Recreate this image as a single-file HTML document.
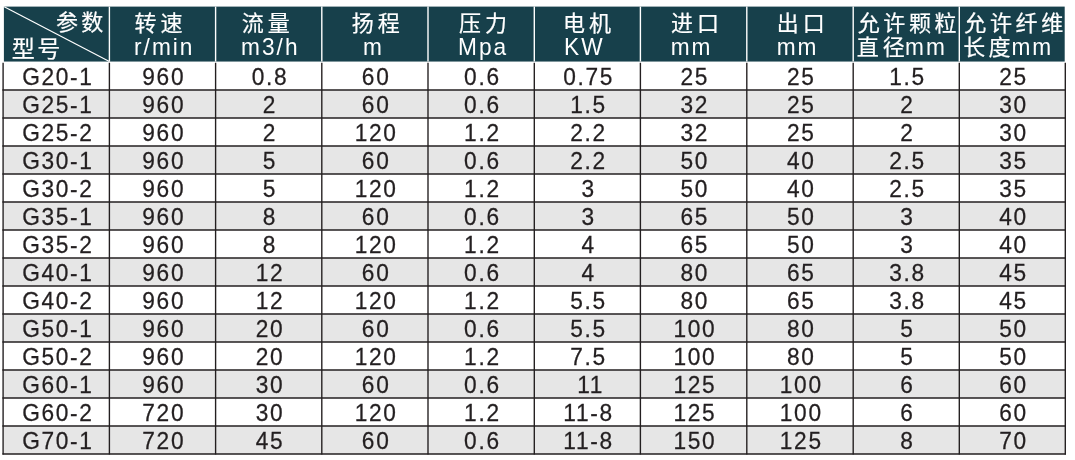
<!DOCTYPE html>
<html lang="zh"><head><meta charset="utf-8"><title>G型螺杆泵参数表</title>
<style>html,body{margin:0;padding:0;background:#fff}body{width:1075px;height:460px;overflow:hidden}svg{display:block}text{font-family:"Liberation Sans","Noto Sans CJK SC",sans-serif}.h{fill:#fff;font-size:22.7px;letter-spacing:2px}.c{fill:#fff;stroke:#fff;stroke-width:.22px;font-size:22px;letter-spacing:0}.b{fill:#231f20;stroke:#231f20;stroke-width:.25px;font-size:22.7px;letter-spacing:1.7px;text-anchor:middle}</style></head><body>
<svg width="1075" height="460" viewBox="0 0 1075 460">
<defs>
<filter id="soft" x="0" y="0" width="100%" height="100%" filterUnits="userSpaceOnUse" color-interpolation-filters="sRGB"><feGaussianBlur stdDeviation="0.38"/></filter>
</defs>
<g filter="url(#soft)">
<rect width="1075" height="460" fill="#fff"/>
<rect x="3.9" y="89.95" width="1061.4" height="28" fill="#e6e6e6"/>
<rect x="3.9" y="145.95" width="1061.4" height="28" fill="#e6e6e6"/>
<rect x="3.9" y="201.95" width="1061.4" height="28" fill="#e6e6e6"/>
<rect x="3.9" y="257.95" width="1061.4" height="28" fill="#e6e6e6"/>
<rect x="3.9" y="313.95" width="1061.4" height="28" fill="#e6e6e6"/>
<rect x="3.9" y="369.95" width="1061.4" height="28" fill="#e6e6e6"/>
<rect x="3.9" y="425.95" width="1061.4" height="28" fill="#e6e6e6"/>
<rect x="3.9" y="6.6" width="1060.8" height="54.95" fill="#17404b"/>
<g stroke="#fff" stroke-width="1.4">
<line x1="109.4" y1="6.6" x2="109.4" y2="61.55"/>
<line x1="215.6" y1="6.6" x2="215.6" y2="61.55"/>
<line x1="321.8" y1="6.6" x2="321.8" y2="61.55"/>
<line x1="428" y1="6.6" x2="428" y2="61.55"/>
<line x1="534.3" y1="6.6" x2="534.3" y2="61.55"/>
<line x1="640.4" y1="6.6" x2="640.4" y2="61.55"/>
<line x1="746.8" y1="6.6" x2="746.8" y2="61.55"/>
<line x1="853.2" y1="6.6" x2="853.2" y2="61.55"/>
<line x1="959.3" y1="6.6" x2="959.3" y2="61.55"/>
<line x1="4.2" y1="6.8" x2="109.4" y2="61.55" stroke-width="1.2"/>
</g>
<g stroke="#231f20" stroke-width="1.38">
<line x1="3.1" y1="62.7" x2="3.1" y2="454.55"/>
<line x1="109.4" y1="62.7" x2="109.4" y2="454.55"/>
<line x1="215.6" y1="62.7" x2="215.6" y2="454.55"/>
<line x1="321.8" y1="62.7" x2="321.8" y2="454.55"/>
<line x1="428" y1="62.7" x2="428" y2="454.55"/>
<line x1="534.3" y1="62.7" x2="534.3" y2="454.55"/>
<line x1="640.4" y1="62.7" x2="640.4" y2="454.55"/>
<line x1="746.8" y1="62.7" x2="746.8" y2="454.55"/>
<line x1="853.2" y1="62.7" x2="853.2" y2="454.55"/>
<line x1="959.3" y1="62.7" x2="959.3" y2="454.55"/>
<line x1="1065.3" y1="62.7" x2="1065.3" y2="454.55"/>
<line x1="2.4" y1="89.95" x2="1066" y2="89.95"/>
<line x1="2.4" y1="117.95" x2="1066" y2="117.95"/>
<line x1="2.4" y1="145.95" x2="1066" y2="145.95"/>
<line x1="2.4" y1="173.95" x2="1066" y2="173.95"/>
<line x1="2.4" y1="201.95" x2="1066" y2="201.95"/>
<line x1="2.4" y1="229.95" x2="1066" y2="229.95"/>
<line x1="2.4" y1="257.95" x2="1066" y2="257.95"/>
<line x1="2.4" y1="285.95" x2="1066" y2="285.95"/>
<line x1="2.4" y1="313.95" x2="1066" y2="313.95"/>
<line x1="2.4" y1="341.95" x2="1066" y2="341.95"/>
<line x1="2.4" y1="369.95" x2="1066" y2="369.95"/>
<line x1="2.4" y1="397.95" x2="1066" y2="397.95"/>
<line x1="2.4" y1="425.95" x2="1066" y2="425.95"/>
<line x1="2.4" y1="453.95" x2="1066" y2="453.95"/>
</g>
<text class="c" x="55.94 81.24" y="29.9">参数</text>
<text class="c" x="11.71 37.21" y="56.85" style="font-size:23.1px">型号</text>
<text class="c" x="134.42 160.42" y="31.2">转速</text>
<text class="c" x="241.72 267.72" y="31.2">流量</text>
<text class="c" x="351.71 377.71" y="31.2">扬程</text>
<text class="c" x="459.1 485.1" y="31.2">压力</text>
<text class="c" x="563.03 589.03" y="31.2">电机</text>
<text class="c" x="670.96 696.96" y="31.2">进口</text>
<text class="c" x="776.81 802.81" y="31.2">出口</text>
<text class="c" x="857.67 883.32 908.97 934.62" y="31.2">允许颗粒</text>
<text class="c" x="856.69 882.79" y="54.7">直径</text>
<text class="c" x="964.27 989.92 1015.57 1041.22" y="31.2">允许纤维</text>
<text class="c" x="963.17 988.57" y="54.7">长度</text>
<text class="h" transform="translate(134.06 55) scale(1 1.04)">r/min</text>
<text class="h" transform="translate(241.1 55) scale(1 1.04)">m3/h</text>
<text class="h" transform="translate(363 55) scale(1 1.04)">m</text>
<text class="h" transform="translate(458.1 55) scale(1 1.04)">Mpa</text>
<text class="h" transform="translate(564.07 55) scale(1 1.04)">KW</text>
<text class="h" transform="translate(670.7 55) scale(1 1.04)">mm</text>
<text class="h" transform="translate(776.7 55) scale(1 1.04)">mm</text>
<text class="h" transform="translate(905.1 55) scale(1 1.04)">mm</text>
<text class="h" transform="translate(1011.4 55) scale(1 1.04)">mm</text>
<text class="b" transform="translate(57.9 84.5) scale(1 1.03)">G20-1</text>
<text class="b" transform="translate(163.75 84.5) scale(1 1.03)">960</text>
<text class="b" transform="translate(269.95 84.5) scale(1 1.03)">0.8</text>
<text class="b" transform="translate(376.15 84.5) scale(1 1.03)">60</text>
<text class="b" transform="translate(482.4 84.5) scale(1 1.03)">0.6</text>
<text class="b" transform="translate(588.6 84.5) scale(1 1.03)">0.75</text>
<text class="b" transform="translate(694.85 84.5) scale(1 1.03)">25</text>
<text class="b" transform="translate(801.25 84.5) scale(1 1.03)">25</text>
<text class="b" transform="translate(907.5 84.5) scale(1 1.03)">1.5</text>
<text class="b" transform="translate(1013.55 84.5) scale(1 1.03)">25</text>
<text class="b" transform="translate(57.9 112.5) scale(1 1.03)">G25-1</text>
<text class="b" transform="translate(163.75 112.5) scale(1 1.03)">960</text>
<text class="b" transform="translate(269.95 112.5) scale(1 1.03)">2</text>
<text class="b" transform="translate(376.15 112.5) scale(1 1.03)">60</text>
<text class="b" transform="translate(482.4 112.5) scale(1 1.03)">0.6</text>
<text class="b" transform="translate(588.6 112.5) scale(1 1.03)">1.5</text>
<text class="b" transform="translate(694.85 112.5) scale(1 1.03)">32</text>
<text class="b" transform="translate(801.25 112.5) scale(1 1.03)">25</text>
<text class="b" transform="translate(907.5 112.5) scale(1 1.03)">2</text>
<text class="b" transform="translate(1013.55 112.5) scale(1 1.03)">30</text>
<text class="b" transform="translate(57.9 140.5) scale(1 1.03)">G25-2</text>
<text class="b" transform="translate(163.75 140.5) scale(1 1.03)">960</text>
<text class="b" transform="translate(269.95 140.5) scale(1 1.03)">2</text>
<text class="b" transform="translate(376.15 140.5) scale(1 1.03)">120</text>
<text class="b" transform="translate(482.4 140.5) scale(1 1.03)">1.2</text>
<text class="b" transform="translate(588.6 140.5) scale(1 1.03)">2.2</text>
<text class="b" transform="translate(694.85 140.5) scale(1 1.03)">32</text>
<text class="b" transform="translate(801.25 140.5) scale(1 1.03)">25</text>
<text class="b" transform="translate(907.5 140.5) scale(1 1.03)">2</text>
<text class="b" transform="translate(1013.55 140.5) scale(1 1.03)">30</text>
<text class="b" transform="translate(57.9 168.5) scale(1 1.03)">G30-1</text>
<text class="b" transform="translate(163.75 168.5) scale(1 1.03)">960</text>
<text class="b" transform="translate(269.95 168.5) scale(1 1.03)">5</text>
<text class="b" transform="translate(376.15 168.5) scale(1 1.03)">60</text>
<text class="b" transform="translate(482.4 168.5) scale(1 1.03)">0.6</text>
<text class="b" transform="translate(588.6 168.5) scale(1 1.03)">2.2</text>
<text class="b" transform="translate(694.85 168.5) scale(1 1.03)">50</text>
<text class="b" transform="translate(801.25 168.5) scale(1 1.03)">40</text>
<text class="b" transform="translate(907.5 168.5) scale(1 1.03)">2.5</text>
<text class="b" transform="translate(1013.55 168.5) scale(1 1.03)">35</text>
<text class="b" transform="translate(57.9 196.5) scale(1 1.03)">G30-2</text>
<text class="b" transform="translate(163.75 196.5) scale(1 1.03)">960</text>
<text class="b" transform="translate(269.95 196.5) scale(1 1.03)">5</text>
<text class="b" transform="translate(376.15 196.5) scale(1 1.03)">120</text>
<text class="b" transform="translate(482.4 196.5) scale(1 1.03)">1.2</text>
<text class="b" transform="translate(588.6 196.5) scale(1 1.03)">3</text>
<text class="b" transform="translate(694.85 196.5) scale(1 1.03)">50</text>
<text class="b" transform="translate(801.25 196.5) scale(1 1.03)">40</text>
<text class="b" transform="translate(907.5 196.5) scale(1 1.03)">2.5</text>
<text class="b" transform="translate(1013.55 196.5) scale(1 1.03)">35</text>
<text class="b" transform="translate(57.9 224.5) scale(1 1.03)">G35-1</text>
<text class="b" transform="translate(163.75 224.5) scale(1 1.03)">960</text>
<text class="b" transform="translate(269.95 224.5) scale(1 1.03)">8</text>
<text class="b" transform="translate(376.15 224.5) scale(1 1.03)">60</text>
<text class="b" transform="translate(482.4 224.5) scale(1 1.03)">0.6</text>
<text class="b" transform="translate(588.6 224.5) scale(1 1.03)">3</text>
<text class="b" transform="translate(694.85 224.5) scale(1 1.03)">65</text>
<text class="b" transform="translate(801.25 224.5) scale(1 1.03)">50</text>
<text class="b" transform="translate(907.5 224.5) scale(1 1.03)">3</text>
<text class="b" transform="translate(1013.55 224.5) scale(1 1.03)">40</text>
<text class="b" transform="translate(57.9 252.5) scale(1 1.03)">G35-2</text>
<text class="b" transform="translate(163.75 252.5) scale(1 1.03)">960</text>
<text class="b" transform="translate(269.95 252.5) scale(1 1.03)">8</text>
<text class="b" transform="translate(376.15 252.5) scale(1 1.03)">120</text>
<text class="b" transform="translate(482.4 252.5) scale(1 1.03)">1.2</text>
<text class="b" transform="translate(588.6 252.5) scale(1 1.03)">4</text>
<text class="b" transform="translate(694.85 252.5) scale(1 1.03)">65</text>
<text class="b" transform="translate(801.25 252.5) scale(1 1.03)">50</text>
<text class="b" transform="translate(907.5 252.5) scale(1 1.03)">3</text>
<text class="b" transform="translate(1013.55 252.5) scale(1 1.03)">40</text>
<text class="b" transform="translate(57.9 280.5) scale(1 1.03)">G40-1</text>
<text class="b" transform="translate(163.75 280.5) scale(1 1.03)">960</text>
<text class="b" transform="translate(269.95 280.5) scale(1 1.03)">12</text>
<text class="b" transform="translate(376.15 280.5) scale(1 1.03)">60</text>
<text class="b" transform="translate(482.4 280.5) scale(1 1.03)">0.6</text>
<text class="b" transform="translate(588.6 280.5) scale(1 1.03)">4</text>
<text class="b" transform="translate(694.85 280.5) scale(1 1.03)">80</text>
<text class="b" transform="translate(801.25 280.5) scale(1 1.03)">65</text>
<text class="b" transform="translate(907.5 280.5) scale(1 1.03)">3.8</text>
<text class="b" transform="translate(1013.55 280.5) scale(1 1.03)">45</text>
<text class="b" transform="translate(57.9 308.5) scale(1 1.03)">G40-2</text>
<text class="b" transform="translate(163.75 308.5) scale(1 1.03)">960</text>
<text class="b" transform="translate(269.95 308.5) scale(1 1.03)">12</text>
<text class="b" transform="translate(376.15 308.5) scale(1 1.03)">120</text>
<text class="b" transform="translate(482.4 308.5) scale(1 1.03)">1.2</text>
<text class="b" transform="translate(588.6 308.5) scale(1 1.03)">5.5</text>
<text class="b" transform="translate(694.85 308.5) scale(1 1.03)">80</text>
<text class="b" transform="translate(801.25 308.5) scale(1 1.03)">65</text>
<text class="b" transform="translate(907.5 308.5) scale(1 1.03)">3.8</text>
<text class="b" transform="translate(1013.55 308.5) scale(1 1.03)">45</text>
<text class="b" transform="translate(57.9 336.5) scale(1 1.03)">G50-1</text>
<text class="b" transform="translate(163.75 336.5) scale(1 1.03)">960</text>
<text class="b" transform="translate(269.95 336.5) scale(1 1.03)">20</text>
<text class="b" transform="translate(376.15 336.5) scale(1 1.03)">60</text>
<text class="b" transform="translate(482.4 336.5) scale(1 1.03)">0.6</text>
<text class="b" transform="translate(588.6 336.5) scale(1 1.03)">5.5</text>
<text class="b" transform="translate(694.85 336.5) scale(1 1.03)">100</text>
<text class="b" transform="translate(801.25 336.5) scale(1 1.03)">80</text>
<text class="b" transform="translate(907.5 336.5) scale(1 1.03)">5</text>
<text class="b" transform="translate(1013.55 336.5) scale(1 1.03)">50</text>
<text class="b" transform="translate(57.9 364.5) scale(1 1.03)">G50-2</text>
<text class="b" transform="translate(163.75 364.5) scale(1 1.03)">960</text>
<text class="b" transform="translate(269.95 364.5) scale(1 1.03)">20</text>
<text class="b" transform="translate(376.15 364.5) scale(1 1.03)">120</text>
<text class="b" transform="translate(482.4 364.5) scale(1 1.03)">1.2</text>
<text class="b" transform="translate(588.6 364.5) scale(1 1.03)">7.5</text>
<text class="b" transform="translate(694.85 364.5) scale(1 1.03)">100</text>
<text class="b" transform="translate(801.25 364.5) scale(1 1.03)">80</text>
<text class="b" transform="translate(907.5 364.5) scale(1 1.03)">5</text>
<text class="b" transform="translate(1013.55 364.5) scale(1 1.03)">50</text>
<text class="b" transform="translate(57.9 392.5) scale(1 1.03)">G60-1</text>
<text class="b" transform="translate(163.75 392.5) scale(1 1.03)">960</text>
<text class="b" transform="translate(269.95 392.5) scale(1 1.03)">30</text>
<text class="b" transform="translate(376.15 392.5) scale(1 1.03)">60</text>
<text class="b" transform="translate(482.4 392.5) scale(1 1.03)">0.6</text>
<text class="b" transform="translate(590.7 392.5) scale(1 1.03)">1<tspan dx="-1.68">1</tspan></text>
<text class="b" transform="translate(694.85 392.5) scale(1 1.03)">125</text>
<text class="b" transform="translate(801.25 392.5) scale(1 1.03)">100</text>
<text class="b" transform="translate(907.5 392.5) scale(1 1.03)">6</text>
<text class="b" transform="translate(1013.55 392.5) scale(1 1.03)">60</text>
<text class="b" transform="translate(57.9 420.5) scale(1 1.03)">G60-2</text>
<text class="b" transform="translate(163.75 420.5) scale(1 1.03)">720</text>
<text class="b" transform="translate(269.95 420.5) scale(1 1.03)">30</text>
<text class="b" transform="translate(376.15 420.5) scale(1 1.03)">120</text>
<text class="b" transform="translate(482.4 420.5) scale(1 1.03)">1.2</text>
<text class="b" transform="translate(588.6 420.5) scale(1 1.03)">1<tspan dx="-1.68">1</tspan>-8</text>
<text class="b" transform="translate(694.85 420.5) scale(1 1.03)">125</text>
<text class="b" transform="translate(801.25 420.5) scale(1 1.03)">100</text>
<text class="b" transform="translate(907.5 420.5) scale(1 1.03)">6</text>
<text class="b" transform="translate(1013.55 420.5) scale(1 1.03)">60</text>
<text class="b" transform="translate(57.9 448.5) scale(1 1.03)">G70-1</text>
<text class="b" transform="translate(163.75 448.5) scale(1 1.03)">720</text>
<text class="b" transform="translate(269.95 448.5) scale(1 1.03)">45</text>
<text class="b" transform="translate(376.15 448.5) scale(1 1.03)">60</text>
<text class="b" transform="translate(482.4 448.5) scale(1 1.03)">0.6</text>
<text class="b" transform="translate(588.6 448.5) scale(1 1.03)">1<tspan dx="-1.68">1</tspan>-8</text>
<text class="b" transform="translate(694.85 448.5) scale(1 1.03)">150</text>
<text class="b" transform="translate(801.25 448.5) scale(1 1.03)">125</text>
<text class="b" transform="translate(907.5 448.5) scale(1 1.03)">8</text>
<text class="b" transform="translate(1013.55 448.5) scale(1 1.03)">70</text>
</g></svg></body></html>
